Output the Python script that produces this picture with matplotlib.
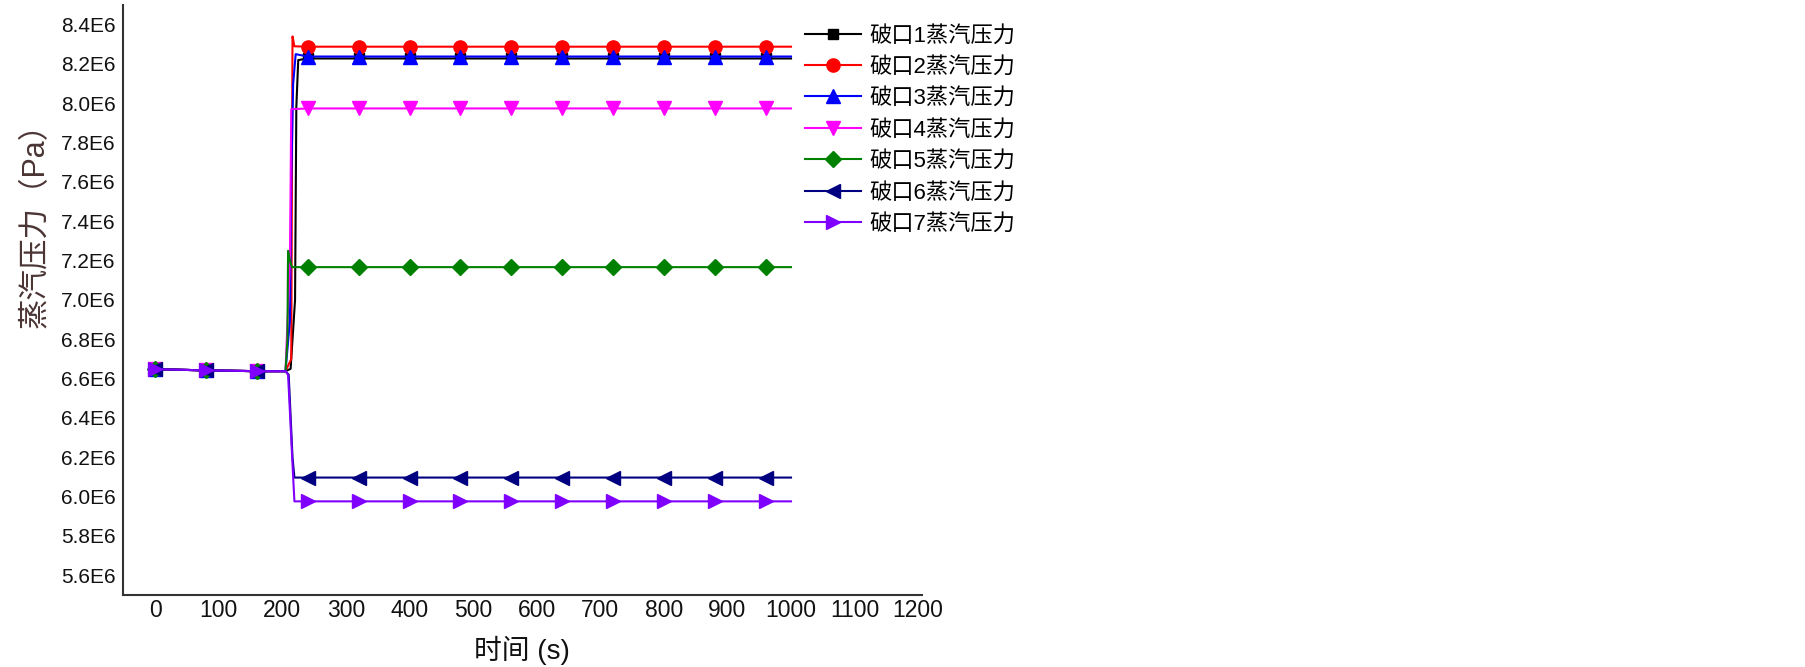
import matplotlib
matplotlib.use("Agg")
import matplotlib.pyplot as plt
from matplotlib import font_manager
import numpy as np

# ---------------- data ----------------
marker_times = [0, 80, 160, 240, 320, 400, 480, 560, 640, 720, 800, 880, 960]
plateau_t = [240, 320, 400, 480, 560, 640, 720, 800, 880, 960, 1000]
pre_t = [0, 80, 160, 205]
pre_v = [6.648e6, 6.642e6, 6.638e6, 6.638e6]

s1_t = pre_t + [213, 220, 222, 225] + plateau_t
s1_v = pre_v + [6.65e6, 7.0e6, 7.98e6, 8.22e6] + [8.228e6] * len(plateau_t)

s2_t = pre_t + [214, 216, 219] + plateau_t
s2_v = pre_v + [6.70e6, 8.34e6, 8.29e6] + [8.288e6] * len(plateau_t)

s3_t = pre_t + [212, 214, 217, 221] + plateau_t
s3_v = pre_v + [6.9e6, 7.6e6, 8.1e6, 8.25e6] + [8.238e6] * len(plateau_t)

s4_t = pre_t + [212, 214] + plateau_t
s4_v = pre_v + [7.2e6, 7.97e6] + [7.974e6] * len(plateau_t)

s5_t = pre_t + [208, 209, 212, 215] + plateau_t
s5_v = pre_v + [6.8e6, 7.25e6, 7.2e6, 7.167e6] + [7.167e6] * len(plateau_t)

s6_t = pre_t + [210, 216, 219] + plateau_t
s6_v = pre_v + [6.62e6, 6.2e6, 6.097e6] + [6.097e6] * len(plateau_t)

s7_t = pre_t + [209, 217, 219] + plateau_t
s7_v = pre_v + [6.62e6, 6.1e6, 5.976e6] + [5.976e6] * len(plateau_t)

series_t = [s1_t, s2_t, s3_t, s4_t, s5_t, s6_t, s7_t]
series_v = [s1_v, s2_v, s3_v, s4_v, s5_v, s6_v, s7_v]
labels = ["破口1蒸汽压力", "破口2蒸汽压力", "破口3蒸汽压力", "破口4蒸汽压力",
          "破口5蒸汽压力", "破口6蒸汽压力", "破口7蒸汽压力"]
colors = ["#000000", "#ff0000", "#0000ff", "#ff00ff", "#008000", "#000080", "#8000ff"]
markers = ["s", "o", "^", "v", "D", "<", ">"]
msizes = [7.5, 9.5, 10, 10, 8, 10, 10]

x_ticks = [0, 100, 200, 300, 400, 500, 600, 700, 800, 900, 1000, 1100, 1200]
x_ticklabels = [str(v) for v in x_ticks]
y_ticks = [5.6e6, 5.8e6, 6.0e6, 6.2e6, 6.4e6, 6.6e6, 6.8e6, 7.0e6, 7.2e6,
           7.4e6, 7.6e6, 7.8e6, 8.0e6, 8.2e6, 8.4e6]
y_ticklabels = ["5.6E6", "5.8E6", "6.0E6", "6.2E6", "6.4E6", "6.6E6", "6.8E6", "7.0E6",
                "7.2E6", "7.4E6", "7.6E6", "7.8E6", "8.0E6", "8.2E6", "8.4E6"]

cjk = "Noto Sans CJK SC"
latin = "Liberation Sans"

# ---------------- figure ----------------
fig = plt.figure(figsize=(18.05, 6.67), dpi=100)
ax = fig.add_axes([0.068, 0.108, 0.4428, 0.8845])

for t, v, lab, c, m, ms in zip(series_t, series_v, labels, colors, markers, msizes):
    idx = [i for i, tt in enumerate(t) if tt in marker_times]
    ax.plot(t, v, color=c, lw=1.5, marker=m, markersize=ms, markevery=idx,
            markerfacecolor=c, markeredgecolor=c, label=lab)

ax.set_xlim(-51, 1206)
ax.set_ylim(5.5e6, 8.5e6)
ax.set_xticks(x_ticks)
ax.set_xticklabels(x_ticklabels, fontfamily=latin, fontsize=16.5)
ax.set_yticks(y_ticks)
ax.set_yticklabels(y_ticklabels, fontfamily=latin, fontsize=15)
ax.tick_params(axis="both", length=0, colors="#111111")
ax.tick_params(axis="x", pad=3)
ax.tick_params(axis="y", pad=5)

for s in ["top", "right"]:
    ax.spines[s].set_visible(False)
for s in ["left", "bottom"]:
    ax.spines[s].set_linewidth(1.5)
    ax.spines[s].set_color("#333333")

ax.set_xlabel("时间 (s)", fontfamily=[latin, cjk], fontsize=20, color="#111111", labelpad=10)
ax.set_ylabel("蒸汽压力（Pa）", fontfamily=[latin, cjk], fontsize=22,
              color="#4a3434")
ax.yaxis.set_label_coords(-0.09, 0.64)

leg = ax.legend(loc="upper left", bbox_to_anchor=(0.446, 0.962),
                bbox_transform=fig.transFigure, frameon=False,
                prop=font_manager.FontProperties(family=[latin, cjk], size=16),
                handlelength=2.5, handletextpad=0.4, labelspacing=0.47,
                borderpad=0, borderaxespad=0)

fig.savefig("out.png", dpi=100)
